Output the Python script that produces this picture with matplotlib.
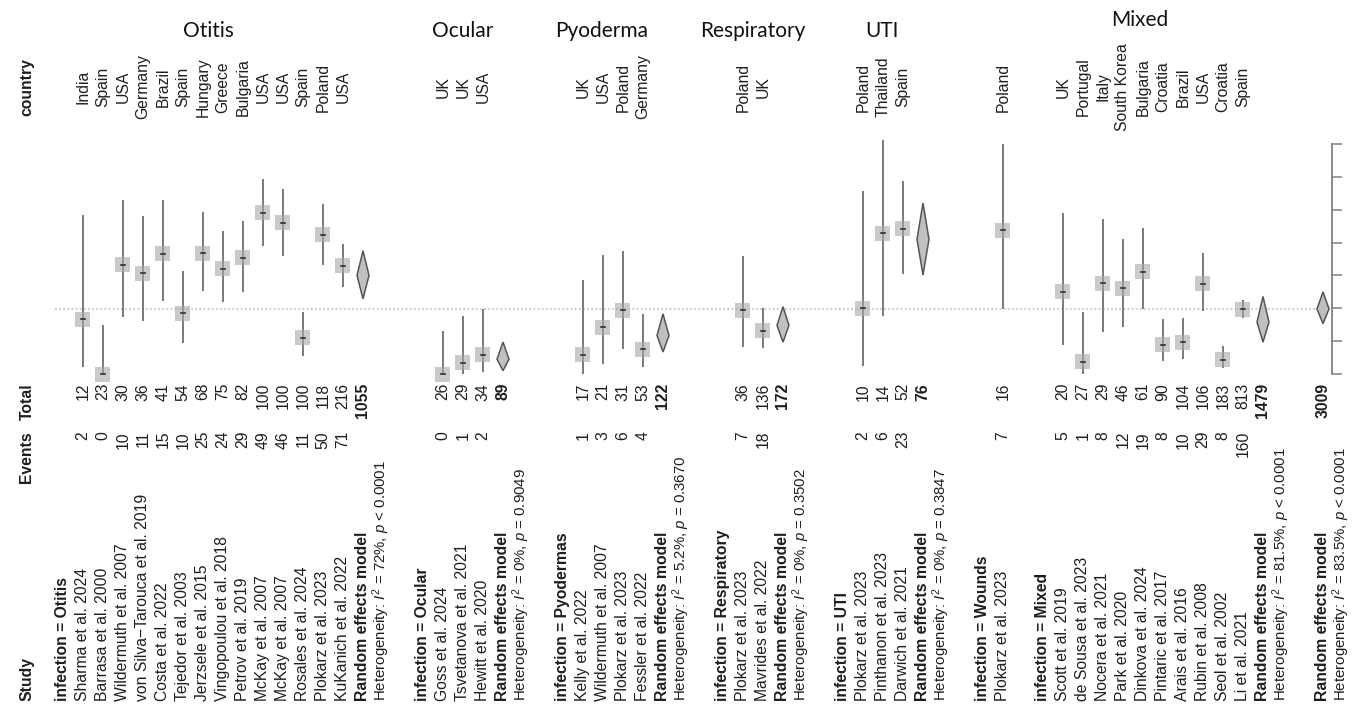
import matplotlib
matplotlib.use("Agg")
import matplotlib.pyplot as plt
from matplotlib import transforms
from matplotlib.patches import Rectangle, Polygon

plt.rcParams['font.family'] = ['Liberation Sans', 'DejaVu Sans']
plt.rcParams['mathtext.fontset'] = 'custom'
plt.rcParams['mathtext.rm'] = 'Liberation Sans'
plt.rcParams['mathtext.it'] = 'Liberation Sans:italic'
plt.rcParams['mathtext.bf'] = 'Liberation Sans:bold'

# ---- data ----
otitis_study = ["Sharma et al. 2024", "Barrasa et al. 2000", "Wildermuth et al. 2007",
                "von Silva\u2212Tarouca et al. 2019", "Costa et al. 2022", "Tejedor et al. 2003",
                "Jerzsele et al. 2015", "Vingopoulou et al. 2018", "Petrov et al. 2019",
                "McKay et al. 2007", "McKay et al. 2007", "Rosales et al. 2024",
                "Plokarz et al. 2023", "KuKanich et al. 2022"]
otitis_country = ["India", "Spain", "USA", "Germany", "Brazil", "Spain", "Hungary", "Greece",
                  "Bulgaria", "USA", "USA", "Spain", "Poland", "USA"]
otitis_events = [2, 0, 10, 11, 15, 10, 25, 24, 29, 49, 46, 11, 50, 71]
otitis_total = [12, 23, 30, 36, 41, 54, 68, 75, 82, 100, 100, 100, 118, 216]
otitis_prop = [0.167, 0.0, 0.333, 0.306, 0.366, 0.185, 0.368, 0.320, 0.354, 0.490, 0.460, 0.110, 0.424, 0.329]
otitis_lower = [0.021, 0.0, 0.173, 0.162, 0.221, 0.093, 0.254, 0.218, 0.251, 0.389, 0.360, 0.056, 0.333, 0.266]
otitis_upper = [0.484, 0.148, 0.528, 0.481, 0.531, 0.314, 0.493, 0.436, 0.467, 0.592, 0.562, 0.188, 0.518, 0.396]

ocular_study = ["Goss et al. 2024", "Tsvetanova et al. 2021", "Hewitt et al. 2020"]
ocular_country = ["UK", "UK", "USA"]
ocular_events = [0, 1, 2]
ocular_total = [26, 29, 34]
ocular_prop = [0.0, 0.034, 0.059]
ocular_lower = [0.0, 0.001, 0.007]
ocular_upper = [0.132, 0.178, 0.197]

pyo_study = ["Kelly et al. 2022", "Wildermuth et al. 2007", "Plokarz et al. 2023", "Fessler et al. 2022"]
pyo_country = ["UK", "USA", "Poland", "Germany"]
pyo_events = [1, 3, 6, 4]
pyo_total = [17, 21, 31, 53]
pyo_prop = [0.059, 0.143, 0.194, 0.075]
pyo_lower = [0.0015, 0.030, 0.075, 0.021]
pyo_upper = [0.287, 0.363, 0.375, 0.182]

resp_study = ["Plokarz et al. 2023", "Mavrides et al. 2022"]
resp_country = ["Poland", "UK"]
resp_events = [7, 18]
resp_total = [36, 136]
resp_prop = [0.194, 0.132]
resp_lower = [0.082, 0.080]
resp_upper = [0.360, 0.201]

uti_study = ["Plokarz et al. 2023", "Pinthanon et al. 2023", "Darwich et al. 2021"]
uti_country = ["Poland", "Thailand", "Spain"]
uti_events = [2, 6, 23]
uti_total = [10, 14, 52]
uti_prop = [0.200, 0.429, 0.442]
uti_lower = [0.025, 0.177, 0.305]
uti_upper = [0.556, 0.711, 0.587]

wound_study = ["Plokarz et al. 2023"]
wound_country = ["Poland"]
wound_events = [7]
wound_total = [16]
wound_prop = [0.4375]
wound_lower = [0.198]
wound_upper = [0.701]

mixed_study = ["Scott et al. 2019", "de Sousa et al. 2023", "Nocera et al. 2021", "Park et al. 2020",
               "Dinkova et al. 2024", "Pintaric et al. 2017", "Arais et al. 2016", "Rubin et al. 2008",
               "Seol et al. 2002", "Li et al. 2021"]
mixed_country = ["UK", "Portugal", "Italy", "South Korea", "Bulgaria", "Croatia", "Brazil", "USA",
                 "Croatia", "Spain"]
mixed_events = [5, 1, 8, 12, 19, 8, 10, 29, 8, 160]
mixed_total = [20, 27, 29, 46, 61, 90, 104, 106, 183, 813]
mixed_prop = [0.250, 0.037, 0.276, 0.261, 0.311, 0.089, 0.096, 0.274, 0.044, 0.197]
mixed_lower = [0.087, 0.001, 0.127, 0.143, 0.199, 0.039, 0.047, 0.191, 0.019, 0.170]
mixed_upper = [0.491, 0.190, 0.472, 0.411, 0.443, 0.168, 0.170, 0.369, 0.084, 0.225]

group_names = ["Otitis", "Ocular", "Pyodermas", "Respiratory", "UTI", "Wounds", "Mixed"]
# random effects summary per group (None = single study, no pooled row)
re_est = [0.300, 0.045, 0.117, 0.148, 0.410, None, 0.158]
re_lower = [0.229, 0.010, 0.067, 0.097, 0.301, None, 0.097]
re_upper = [0.375, 0.097, 0.183, 0.205, 0.520, None, 0.236]
re_total = [1055, 89, 122, 172, 76, None, 1479]
re_het = [r"$I^2$ = 72%, $p$ < 0.0001", r"$I^2$ = 0%, $p$ = 0.9049", r"$I^2$ = 5.2%, $p$ = 0.3670",
          r"$I^2$ = 0%, $p$ = 0.3502", r"$I^2$ = 0%, $p$ = 0.3847", None,
          r"$I^2$ = 81.5%, $p$ < 0.0001"]

overall_est, overall_lower, overall_upper = 0.198, 0.153, 0.250
overall_total = 3009
overall_het = r"$I^2$ = 83.5%, $p$ < 0.0001"

panel_titles = ["Otitis", "Ocular", "Pyoderma", "Respiratory", "UTI", "Mixed"]

groups = [
    (otitis_study, otitis_country, otitis_events, otitis_total, otitis_prop, otitis_lower, otitis_upper),
    (ocular_study, ocular_country, ocular_events, ocular_total, ocular_prop, ocular_lower, ocular_upper),
    (pyo_study, pyo_country, pyo_events, pyo_total, pyo_prop, pyo_lower, pyo_upper),
    (resp_study, resp_country, resp_events, resp_total, resp_prop, resp_lower, resp_upper),
    (uti_study, uti_country, uti_events, uti_total, uti_prop, uti_lower, uti_upper),
    (wound_study, wound_country, wound_events, wound_total, wound_prop, wound_lower, wound_upper),
    (mixed_study, mixed_country, mixed_events, mixed_total, mixed_prop, mixed_lower, mixed_upper),
]

# ---- layout (pixels of the 1362x712 canvas) ----
W, H = 1362, 712
ROW0_PX, ROW_PX = 63, 20          # x pixel of first row, row pitch
ZERO_PX, SCALE_PX = 374, 328.6    # y pixel of p=0, pixels per unit proportion
Y_STUDY, Y_EVENTS, Y_TOTAL, Y_COUNTRY = 701, 431, 383, 87

fig = plt.figure(figsize=(W / 100, H / 100), dpi=100)
ax = fig.add_axes([0, 0, 1, 1])
ax.set_xlim((0 - ROW0_PX) / ROW_PX, (W - ROW0_PX) / ROW_PX)
ax.set_ylim((ZERO_PX - H) / SCALE_PX, ZERO_PX / SCALE_PX)
trans = transforms.blended_transform_factory(ax.transData, fig.transFigure)


def fy(px):
    return 1 - px / H


TXT = '#1e1e1e'
FS = 11.3


def txt(row, ypx, s, va, bold=False, size=FS, color=TXT):
    ax.text(row, fy(ypx), s, transform=trans, rotation=90, ha='center', va=va,
            fontsize=size, fontweight='bold' if bold else 'normal', color=color)


# headers
hdr = -1.8
txt(hdr, Y_STUDY, "Study", 'bottom', bold=True)
txt(hdr, Y_EVENTS, "Events", 'top', bold=True)
txt(hdr, Y_TOTAL, "Total", 'top', bold=True)
txt(hdr, Y_COUNTRY, "country", 'center', bold=True)

rows, props, lows, highs = [], [], [], []
diamonds = []
row = 0
title_rows = []
for g, (study, country, ev, tot, pr, lo, hi) in enumerate(groups):
    txt(row, Y_STUDY, "infection = " + group_names[g], 'bottom', bold=True)
    row += 1
    first = row
    for i in range(len(study)):
        txt(row, Y_STUDY, study[i], 'bottom')
        txt(row, Y_EVENTS, str(ev[i]), 'top')
        txt(row, Y_TOTAL, str(tot[i]), 'top')
        txt(row, Y_COUNTRY, country[i], 'center')
        rows.append(row)
        props.append(pr[i])
        lows.append(lo[i])
        highs.append(hi[i])
        row += 1
    title_rows.append((first + row - 1) / 2)
    if re_est[g] is not None:
        txt(row, Y_STUDY, "Random effects model", 'bottom', bold=True)
        txt(row, Y_TOTAL, str(re_total[g]), 'top', bold=True)
        diamonds.append((row, re_est[g], re_lower[g], re_upper[g]))
        row += 1
        txt(row - 0.1, Y_STUDY, "Heterogeneity: " + re_het[g], 'bottom', size=10.8)
        row += 1
    row += 1

txt(row, Y_STUDY, "Random effects model", 'bottom', bold=True)
txt(row, Y_TOTAL, str(overall_total), 'top', bold=True)
diamonds.append((row, overall_est, overall_lower, overall_upper))
txt(row + 0.9, Y_STUDY, "Heterogeneity: " + overall_het, 'bottom', size=10.8)
last_row = row

# reference (pooled estimate) line
ax.plot([-0.4, last_row + 0.35], [overall_est, overall_est], color='#bdbdbd',
        linestyle=(0, (1.2, 1.5)), lw=1.1, zorder=1)

# confidence intervals, boxes, centre marks
ax.vlines(rows, lows, highs, color='#707070', lw=1.3, zorder=2)
bw = 15 / ROW_PX
bh = 15 / SCALE_PX
for r, p in zip(rows, props):
    ax.add_patch(Rectangle((r - bw / 2, p - bh / 2), bw, bh, facecolor='#a8a8a8',
                           edgecolor='none', alpha=0.6, zorder=3))
    ax.plot([r - 0.11, r + 0.11], [p, p], color='#303030', lw=1.2, zorder=4)

for r, e, lo, hi in diamonds:
    ax.add_patch(Polygon([(r - 0.3, e), (r, hi), (r + 0.3, e), (r, lo)], closed=True,
                         facecolor='#c0c0c0', edgecolor='#555555', lw=1.1, zorder=3))

# axis on the right
for s in ['left', 'top', 'bottom']:
    ax.spines[s].set_visible(False)
ax.spines['right'].set_position(('data', (1332 - ROW0_PX) / ROW_PX))
ax.spines['right'].set_bounds(0, 0.7)
ax.spines['right'].set_color('#808080')
ax.spines['right'].set_linewidth(1.3)
ax.set_xticks([])
ax.yaxis.tick_right()
ax.set_yticks([0, 0.1, 0.2, 0.3, 0.4, 0.5, 0.6, 0.7])
ax.tick_params(axis='y', direction='out', length=7.5, width=1.1, color='#808080',
               labelright=False, labelleft=False)
ax.patch.set_visible(False)

# panel titles
title_pos = [(title_rows[0] - 0.25, 37), (title_rows[1], 37), (title_rows[2] - 0.55, 37),
             (title_rows[3], 37), (title_rows[4] - 0.05, 37), (title_rows[6] - 0.65, 26)]
for name, (r, ypx) in zip(panel_titles, title_pos):
    ax.text(r, fy(ypx), name, transform=trans, ha='center', va='baseline',
            fontsize=15, family=['Lato', 'DejaVu Sans'], color='#111111')

fig.savefig("out.png", dpi=100)
